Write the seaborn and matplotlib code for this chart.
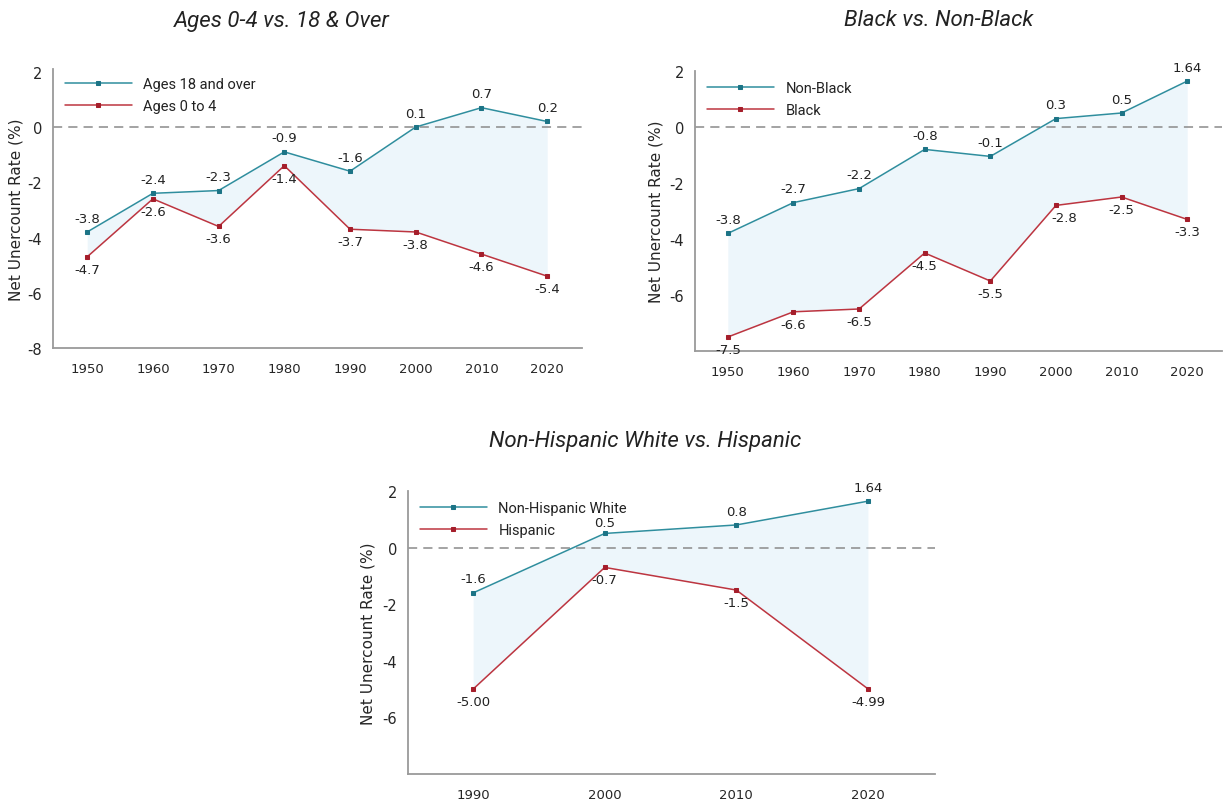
#Census net undercount: three line charts with shaded gap
import numpy as np
import matplotlib
matplotlib.use('Agg')
import matplotlib.pyplot as plt
import seaborn as sns
import pandas as pd

#Data
years_a = [1950, 1960, 1970, 1980, 1990, 2000, 2010, 2020]
adults = [-3.8, -2.4, -2.3, -0.9, -1.6, 0.0, 0.7, 0.2]
adults_lbl = ['-3.8', '-2.4', '-2.3', '-0.9', '-1.6', '0.1', '0.7', '0.2']
kids = [-4.7, -2.6, -3.6, -1.4, -3.7, -3.8, -4.6, -5.4]
kids_lbl = ['-4.7', '-2.6', '-3.6', '-1.4', '-3.7', '-3.8', '-4.6', '-5.4']

years_b = [1950, 1960, 1970, 1980, 1990, 2000, 2010, 2020]
nonblack = [-3.8, -2.7, -2.2, -0.8, -1.05, 0.3, 0.5, 1.64]
nonblack_lbl = ['-3.8', '-2.7', '-2.2', '-0.8', '-0.1', '0.3', '0.5', '1.64']
black = [-7.5, -6.6, -6.5, -4.5, -5.5, -2.8, -2.5, -3.3]
black_lbl = ['-7.5', '-6.6', '-6.5', '-4.5', '-5.5', '-2.8', '-2.5', '-3.3']

years_c = [1990, 2000, 2010, 2020]
nhwhite = [-1.6, 0.5, 0.8, 1.64]
nhwhite_lbl = ['-1.6', '0.5', '0.8', '1.64']
hispanic = [-5.00, -0.7, -1.5, -4.99]
hispanic_lbl = ['-5.00', '-0.7', '-1.5', '-4.99']

#Style
sns.set_style('white')
plt.rcParams['font.family'] = ['DejaVu Sans']
plt.rcParams['text.color'] = '#222222'

TEAL = '#2f8e9e'
TEAL_MK = '#1c7486'
RED = '#bd3540'
RED_MK = '#a51e2b'
FILL = '#edf6fb'

fig = plt.figure(figsize=(12.27, 8.04), dpi=100)
W, H = 1227, 804

def make_ax(left, top, right, bottom):
    return fig.add_axes([left/W, 1 - bottom/H, (right-left)/W, (bottom-top)/H])

def draw(ax, years, top, top_lbl, top_name, bot, bot_lbl, bot_name,
         xlim, ylim, yticks, leg_anchor, ylab_x, top_dy=None, lbl_dx=None):
    ax.fill_between(years, top, bot, color=FILL, lw=0, zorder=1)
    ax.axhline(0, color='#8a8a8a', lw=1.1, ls=(0, (6, 4)), zorder=1.5)
    sns.lineplot(x=years, y=top, ax=ax, color=TEAL, lw=1.1, marker='s',
                 markersize=3.2, markeredgecolor=TEAL_MK, markerfacecolor=TEAL_MK,
                 label=top_name, zorder=3)
    sns.lineplot(x=years, y=bot, ax=ax, color=RED, lw=1.1, marker='s',
                 markersize=3.2, markeredgecolor=RED_MK, markerfacecolor=RED_MK,
                 label=bot_name, zorder=3)
    for i, (x, y, s) in enumerate(zip(years, top, top_lbl)):
        dy = top_dy[i] if top_dy else 10
        ax.annotate(s, (x, y), xytext=(0, dy), textcoords='offset points',
                    ha='center', va='center', fontsize=9.5)
    for i, (x, y, s) in enumerate(zip(years, bot, bot_lbl)):
        dx = lbl_dx[i] if lbl_dx else 0
        ax.annotate(s, (x, y), xytext=(dx, -9), textcoords='offset points',
                    ha='center', va='center', fontsize=9.5)
    ax.set_xlim(*xlim)
    ax.set_ylim(*ylim)
    ax.set_xticks(years)
    ax.set_xticklabels([str(y) for y in years])
    ax.set_yticks(yticks)
    ax.set_yticklabels([str(t) for t in yticks])
    ax.tick_params(axis='x', length=0, pad=10, labelsize=9.5)
    ax.tick_params(axis='y', length=0, pad=8, labelsize=10.5)
    sns.despine(ax=ax)
    for sp in ['left', 'bottom']:
        ax.spines[sp].set_color('#9a9a9a')
        ax.spines[sp].set_linewidth(1.3)
    ax.set_ylabel('Net Unercount Rate (%)', fontsize=11)
    ax.yaxis.label.set_va('center')
    ax.yaxis.set_label_coords(ylab_x, 0.5)
    ax.set_xlabel('')
    ax.legend(loc='upper left', bbox_to_anchor=leg_anchor, frameon=False,
              prop={'family': 'Roboto', 'size': 10.5}, handlelength=4.6,
              handletextpad=0.8, labelspacing=0.55, borderpad=0, borderaxespad=0)

ax1 = make_ax(53, 70, 582, 349)
draw(ax1, years_a, adults, adults_lbl, 'Ages 18 and over', kids, kids_lbl, 'Ages 0 to 4',
     (1944.8, 2025.3), (-7.9, 2.1), [2, 0, -2, -4, -6, -8], (0.022, 0.97), (16-53)/529)

ax2 = make_ax(695, 72, 1222, 352)
draw(ax2, years_b, nonblack, nonblack_lbl, 'Non-Black', black, black_lbl, 'Black',
     (1945.0, 2025.3), (-8.0, 2.0), [2, 0, -2, -4, -6], (0.022, 0.965), (656-695)/527,
     lbl_dx=[0, 0, 0, 0, 0, 6, 0, 0])

ax3 = make_ax(408, 492, 935, 775)
draw(ax3, years_c, nhwhite, nhwhite_lbl, 'Non-Hispanic White', hispanic, hispanic_lbl, 'Hispanic',
     (1985.05, 2025.1), (-8.0, 2.0), [2, 0, -2, -4, -6], (0.022, 0.965), (368-408)/527,
     top_dy=[10, 8, 10, 10])

#Titles
tfam = ['Roboto', 'DejaVu Sans']
fig.text(282/W, 1 - 21/H, 'Ages 0-4 vs. 18 & Over', ha='center', va='center',
         fontsize=16, style='italic', family=tfam)
fig.text(939/W, 1 - 21/H, 'Black vs. Non-Black', ha='center', va='center',
         fontsize=16, style='italic', family=tfam)
fig.text(645/W, 1 - 442/H, 'Non-Hispanic White vs. Hispanic', ha='center', va='center',
         fontsize=16, style='italic', family=tfam)

plt.savefig('out.png', dpi=100)
